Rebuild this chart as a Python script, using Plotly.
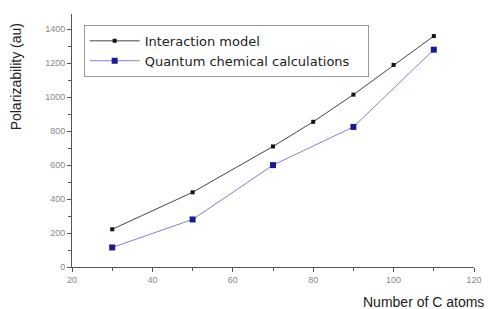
import plotly.graph_objects as go

x_inter = [30, 50, 70, 80, 90, 100, 110]
y_inter = [222, 440, 710, 855, 1015, 1190, 1360]
x_quant = [30, 50, 70, 90, 110]
y_quant = [115, 280, 600, 825, 1280]
x_ticks = [20, 40, 60, 80, 100, 120]
y_ticks = [0, 200, 400, 600, 800, 1000, 1200, 1400]

fig = go.Figure()
fig.add_trace(go.Scatter(x=x_inter, y=y_inter, mode="lines+markers",
                         name="Interaction model",
                         line=dict(color="#444444", width=1),
                         marker=dict(symbol="square", size=4, color="#111111")))
fig.add_trace(go.Scatter(x=x_quant, y=y_quant, mode="lines+markers",
                         name="Quantum chemical calculations\u00a0\u00a0\u00a0",
                         line=dict(color="#8080d0", width=1),
                         marker=dict(symbol="square", size=6, color="#1a1a99")))

fig.update_layout(
    width=490, height=309,
    margin=dict(l=72, r=8, t=14, b=42),
    plot_bgcolor="white", paper_bgcolor="white",
    font=dict(family="Liberation Sans, Arial, sans-serif", color="#222222"),
    showlegend=True,
    legend=dict(x=0.029, y=0.957, xanchor="left", yanchor="top",
                bgcolor="white", bordercolor="#999999", borderwidth=1,
                font=dict(family="DejaVu Sans", size=13, color="#222222"),
                tracegroupgap=0, itemwidth=50),
    xaxis=dict(range=[20, 120], tickvals=x_ticks, showgrid=False, zeroline=False,
               showline=True, linecolor="#555555", linewidth=1,
               ticks="outside", ticklen=4, tickcolor="#555555",
               minor=dict(ticks="outside", ticklen=3, tickcolor="#555555", dtick=10),
               tickfont=dict(size=9, color="#888888")),
    yaxis=dict(range=[0, 1490], tickvals=y_ticks, showgrid=False, zeroline=False,
               showline=True, linecolor="#555555", linewidth=1,
               ticks="outside", ticklen=4, tickcolor="#555555",
               minor=dict(ticks="outside", ticklen=3, tickcolor="#555555", dtick=100),
               tickfont=dict(size=9, color="#888888")),
)
fig.add_annotation(text="Number of C atoms", xref="paper", yref="paper",
                   x=1.03, y=-0.138, xanchor="right", yanchor="middle", showarrow=False,
                   font=dict(size=14, color="#222222"))
fig.add_annotation(text="Polarizability (au)", xref="paper", yref="paper",
                   x=-0.139, y=0.75, xanchor="center", yanchor="middle", showarrow=False,
                   textangle=-90, font=dict(size=14, color="#222222"))
fig.write_html("out.html", config={"displayModeBar": False},
               post_script="document.body.style.margin='0';")
